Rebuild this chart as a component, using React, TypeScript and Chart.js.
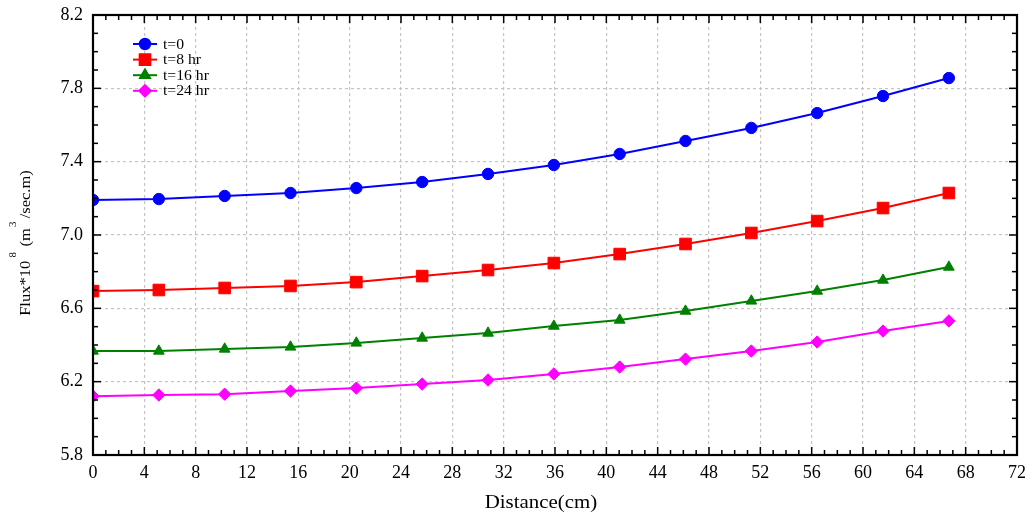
import React, { useEffect, useRef } from "react";
import { Chart, registerables } from "chart.js";
import { drawPoint } from "chart.js/helpers";

Chart.register(...registerables);

// ---- data ----
const distanceCm = [0, 5.13, 10.26, 15.39, 20.52, 25.65, 30.78, 35.91, 41.04, 46.17, 51.3, 56.43, 61.56, 66.69];
const fluxT0 = [7.191, 7.196, 7.213, 7.229, 7.256, 7.289, 7.333, 7.382, 7.442, 7.513, 7.584, 7.665, 7.758, 7.856];
const fluxT8 = [6.694, 6.7, 6.711, 6.722, 6.743, 6.776, 6.809, 6.847, 6.896, 6.951, 7.011, 7.076, 7.147, 7.229];
const fluxT16 = [6.367, 6.367, 6.378, 6.389, 6.411, 6.438, 6.465, 6.503, 6.536, 6.585, 6.64, 6.694, 6.754, 6.825];
const fluxT24 = [6.121, 6.127, 6.132, 6.149, 6.165, 6.187, 6.209, 6.242, 6.28, 6.323, 6.367, 6.416, 6.476, 6.531];
const seriesLabels = ["t=0", "t=8 hr", "t=16 hr", "t=24 hr"];
const xAxisTitle = "Distance(cm)";
const yTitleParts = [
  { text: "Flux*10", sup: false, gap: 0 },
  { text: "8", sup: true, gap: 3 },
  { text: "(m", sup: false, gap: 5 },
  { text: "3", sup: true, gap: 1 },
  { text: "/sec.m)", sup: false, gap: 3 },
];
const X_MIN = 0, X_MAX = 72, X_STEP = 4, X_MINOR_PER_MAJOR = 4;
const Y_MIN = 5.8, Y_MAX = 8.2, Y_STEP = 0.4, Y_MINOR_PER_MAJOR = 4;

const colors = ["#0000ff", "#ff0000", "#008000", "#ff00ff"];
const styles = ["circle", "rect", "triangle", "rectRot"];
const radii = [5.7, 8.2, 6.2, 6.2];
const SERIF = "'Liberation Serif', 'Times New Roman', serif";

const decorPlugin = {
  id: "decor",
  afterDraw(chart: any) {
    const { ctx, chartArea: a, scales } = chart;
    const xs = scales.x, ys = scales.y;
    ctx.save();
    ctx.strokeStyle = "#000";
    ctx.lineWidth = 1.5;
    const seg = (x1: number, y1: number, x2: number, y2: number) => {
      ctx.beginPath();
      ctx.moveTo(x1, y1);
      ctx.lineTo(x2, y2);
      ctx.stroke();
    };
    // x ticks (inward, top & bottom)
    const xN = ((X_MAX - X_MIN) / X_STEP) * X_MINOR_PER_MAJOR;
    for (let i = 0; i <= xN; i++) {
      const v = X_MIN + (i * X_STEP) / X_MINOR_PER_MAJOR;
      const px = xs.getPixelForValue(v);
      const major = i % X_MINOR_PER_MAJOR === 0;
      const len = major ? 8 : 5;
      seg(px, a.bottom, px, a.bottom - len);
      seg(px, a.top, px, a.top + len);
    }
    const yN = Math.round(((Y_MAX - Y_MIN) / Y_STEP) * Y_MINOR_PER_MAJOR);
    for (let i = 0; i <= yN; i++) {
      const v = Y_MIN + (i * Y_STEP) / Y_MINOR_PER_MAJOR;
      const py = ys.getPixelForValue(v);
      const major = i % Y_MINOR_PER_MAJOR === 0;
      const len = major ? 8 : 5;
      seg(a.left, py, a.left + len, py);
      seg(a.right, py, a.right - len, py);
    }
    // frame
    ctx.lineWidth = 2.2;
    ctx.strokeRect(a.left, a.top, a.right - a.left, a.bottom - a.top);

    // legend
    chart.data.datasets.forEach((ds: any, i: number) => {
      const y = 44 + i * 15.6;
      ctx.strokeStyle = ds.borderColor;
      ctx.lineWidth = 2;
      seg(133, y, 157, y);
      ctx.fillStyle = ds.borderColor;
      drawPoint(ctx, { pointStyle: ds.pointStyle, radius: ds.pointRadius * 0.92, borderWidth: 1, rotation: 0 } as any, 145, y);
      ctx.save();
      ctx.translate(163, y);
      ctx.scale(1.12, 1);
      ctx.fillStyle = "#000";
      ctx.font = `14px ${SERIF}`;
      ctx.textAlign = "left";
      ctx.textBaseline = "middle";
      ctx.fillText(ds.label, 0, 1);
      ctx.restore();
    });

    // x title
    ctx.save();
    ctx.translate(541, 508);
    ctx.scale(1.1, 1);
    ctx.fillStyle = "#000";
    ctx.font = `19px ${SERIF}`;
    ctx.textAlign = "center";
    ctx.textBaseline = "alphabetic";
    ctx.fillText(xAxisTitle, 0, 0);
    ctx.restore();

    // y title with superscripts
    const S = 1.1;
    const mainFont = `15px ${SERIF}`;
    const supFont = `10px ${SERIF}`;
    let total = 0;
    for (const p of yTitleParts) {
      ctx.font = p.sup ? supFont : mainFont;
      total += p.gap + ctx.measureText(p.text).width;
    }
    const centerY = 243;
    ctx.save();
    ctx.translate(30, centerY + (total * S) / 2);
    ctx.rotate(-Math.PI / 2);
    ctx.scale(S, 1);
    ctx.fillStyle = "#000";
    ctx.textAlign = "left";
    ctx.textBaseline = "alphabetic";
    let pos = 0;
    for (const p of yTitleParts) {
      ctx.font = p.sup ? supFont : mainFont;
      pos += p.gap;
      ctx.fillText(p.text, pos, p.sup ? -14 : 0);
      pos += ctx.measureText(p.text).width;
    }
    ctx.restore();

    ctx.restore();
  },
};

export default function App() {
  const ref = useRef<HTMLCanvasElement | null>(null);
  useEffect(() => {
    if (!ref.current) return;
    const series = [fluxT0, fluxT8, fluxT16, fluxT24];
    const chart = new Chart(ref.current, {
      type: "line",
      data: {
        datasets: series.map((vals, i) => ({
          label: seriesLabels[i],
          data: distanceCm.map((x, j) => ({ x, y: vals[j] })),
          borderColor: colors[i],
          backgroundColor: colors[i],
          pointBackgroundColor: colors[i],
          pointBorderColor: colors[i],
          pointStyle: styles[i] as any,
          pointRadius: radii[i],
          pointBorderWidth: 1,
          borderWidth: 2,
          tension: 0,
          fill: false,
        })),
      },
      options: {
        responsive: false,
        animation: false,
        layout: { padding: { top: 15, right: 17, left: 0, bottom: 0 } },
        plugins: { legend: { display: false }, tooltip: { enabled: false } },
        scales: {
          x: {
            type: "linear",
            min: X_MIN,
            max: X_MAX,
            afterFit: (s: any) => {
              s.height = 61;
              s.paddingLeft = 0;
              s.paddingRight = 0;
            },
            ticks: {
              stepSize: X_STEP,
              autoSkip: false,
              maxRotation: 0,
              padding: 7,
              color: "#000",
              font: { family: SERIF, size: 18 },
            },
            grid: { color: "#c4c4c4", lineWidth: 1.2, drawTicks: false },
            border: { display: false, dash: [3, 3] },
          },
          y: {
            type: "linear",
            min: Y_MIN,
            max: Y_MAX,
            afterFit: (s: any) => {
              s.width = 93;
              s.paddingTop = 0;
              s.paddingBottom = 0;
            },
            ticks: {
              stepSize: Y_STEP,
              padding: 10,
              color: "#000",
              font: { family: SERIF, size: 18 },
              callback: (v: any) => Number(v).toFixed(1),
            },
            grid: { color: "#c4c4c4", lineWidth: 1.2, drawTicks: false },
            border: { display: false, dash: [3, 3] },
          },
        },
      },
      plugins: [decorPlugin],
    });
    return () => chart.destroy();
  }, []);
  return (
    <div style={{ position: "fixed", left: 0, top: 0, width: 1034, height: 516, background: "#fff" }}>
      <canvas ref={ref} width={1034} height={516} style={{ display: "block" }} />
    </div>
  );
}
